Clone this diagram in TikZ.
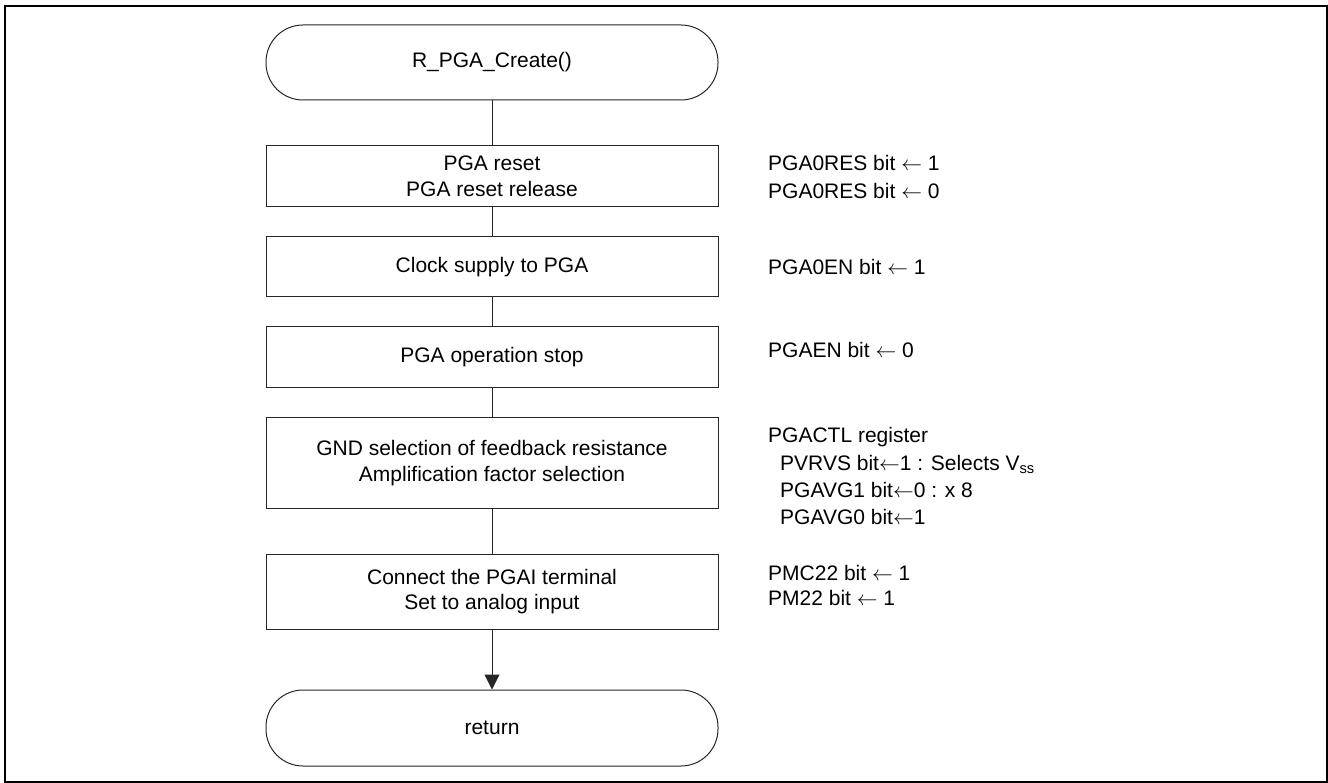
\documentclass[tikz,border=0pt]{standalone}
\usepackage{fontspec}
\setmainfont{Liberation Sans}
\usetikzlibrary{arrows.meta}
\newcommand{\flowfont}{\fontsize{21}{25.5}\selectfont}
\newcommand{\getsbit}{\ensuremath{\leftarrow}}
\tikzset{
  flowbox/.style={draw=black!85, line width=1pt, minimum width=452pt,
    align=center, inner sep=0pt, font=\flowfont},
  termbox/.style={flowbox, rounded corners=37pt},
  note/.style={anchor=base west, inner sep=0pt, font=\flowfont},
  link/.style={draw=black!85, line width=1pt},
}
\begin{document}
\begin{tikzpicture}[x=1pt, y=-1pt]
  \useasboundingbox (0,0) rectangle (1328,783);
  % outer frame
  \draw[line width=2pt] (5,6) rectangle (1327,782);

  % flow column
  \node[termbox, minimum height=75pt] (start) at (492,62.5) {R\_PGA\_Create()};
  \node[flowbox, minimum height=61pt] (b1) at (492,176.5) {PGA reset\\PGA reset release};
  \node[flowbox, minimum height=60pt] (b2) at (492,267) {Clock supply to PGA};
  \node[flowbox, minimum height=61pt] (b3) at (492,357.5) {PGA operation stop};
  \node[flowbox, minimum height=90pt] (b4) at (492,463) {GND selection of feedback resistance\\Amplification factor selection};
  \node[flowbox, minimum height=75pt] (b5) at (492,591.5) {Connect the PGAI terminal\\Set to analog input};
  \node[termbox, minimum height=76pt] (ret) at (492,728) {return};

  \draw[link] (start) -- (b1);
  \draw[link] (b1) -- (b2);
  \draw[link] (b2) -- (b3);
  \draw[link] (b3) -- (b4);
  \draw[link] (b4) -- (b5);
  \draw[link, -{Triangle[length=15pt, width=15pt]}] (b5) -- (ret);

  % register notes
  \node[note] (n1a) at (768,170.5) {PGA0RES bit \getsbit{} 1};
  \node[note] (n1b) at (768,198.5) {PGA0RES bit \getsbit{} 0};
  \node[note] (n2)  at (768,274.5) {PGA0EN bit \getsbit{} 1};
  \node[note] (n3)  at (768,357.5) {PGAEN bit \getsbit{} 0};
  \node[note] (n4a) at (768,442.5) {PGACTL register};
  \node[note] (n4b) at (780,470.5) {PVRVS bit\getsbit1 : Selects V\textsubscript{ss}};
  \node[note] (n4c) at (780,497.5) {PGAVG1 bit\getsbit0 : x 8};
  \node[note] (n4d) at (780,524.5) {PGAVG0 bit\getsbit1};
  \node[note] (n5a) at (768,580.5) {PMC22 bit \getsbit{} 1};
  \node[note] (n5b) at (768,605.5) {PM22 bit \getsbit{} 1};
\end{tikzpicture}
\end{document}
